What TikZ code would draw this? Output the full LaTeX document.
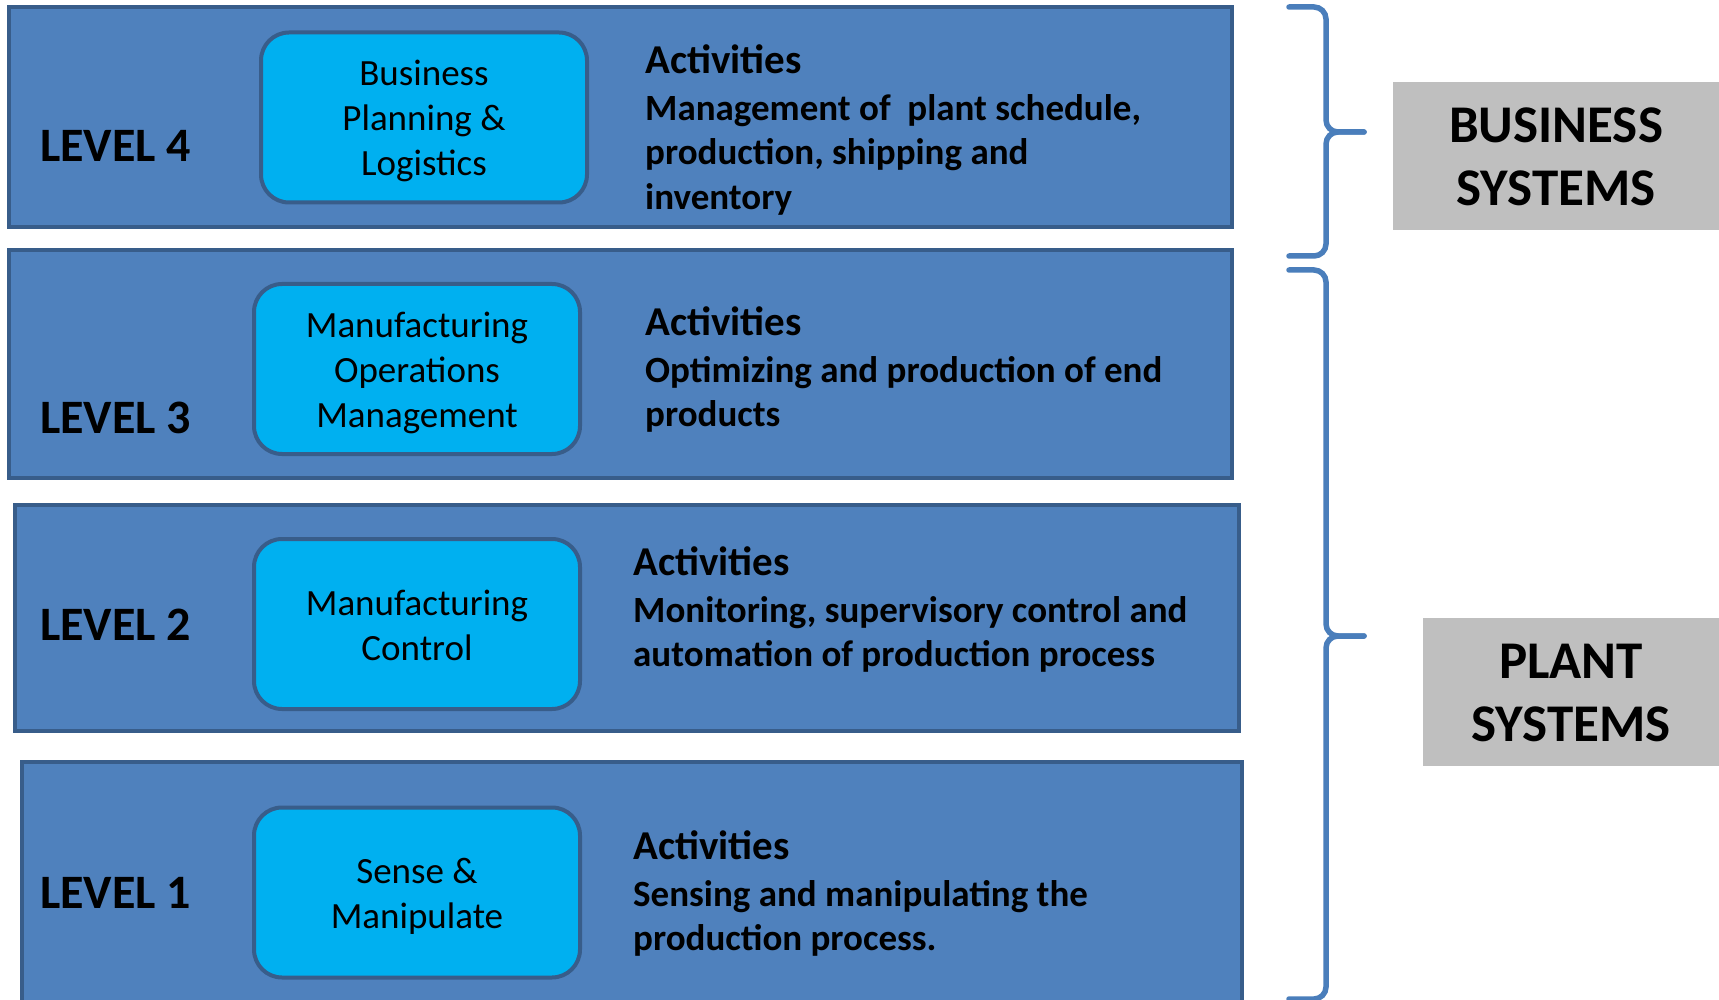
\documentclass[tikz,border=0pt]{standalone}
\usepackage{fontspec}
\setmainfont{Carlito}
\usetikzlibrary{calc}

\definecolor{levelblue}{HTML}{4F81BD}
\definecolor{leveledge}{HTML}{385D8A}
\definecolor{taskblue}{HTML}{00B0F0}
\definecolor{bracecol}{HTML}{4A7EBB}
\definecolor{sysgray}{HTML}{BFBFBF}

\begin{document}
\begin{tikzpicture}[x=1pt,y=-1pt]
		\tikzset{levelbox/.style={draw=leveledge, fill=levelblue, line width=4pt, inner sep=0pt}}
		\tikzset{taskbox/.style={draw=leveledge, fill=taskblue, line width=4pt, rounded corners=28pt, minimum width=326pt, minimum height=170pt, align=center, font=\fontsize{37}{45}\selectfont}}
		\tikzset{levellabel/.style={anchor=west, inner sep=0pt, font=\fontsize{48}{56}\selectfont\bfseries}}
		\tikzset{activity/.style={anchor=north west, inner sep=0pt, align=left, font=\fontsize{37}{44.5}\selectfont\bfseries}}
		\tikzset{sysbox/.style={fill=sysgray, align=center, inner sep=0pt, font=\fontsize{53}{63}\selectfont\bfseries}}
		\tikzset{bracepath/.style={draw=bracecol, line width=5.5pt, rounded corners=12pt, line cap=round}}
		
		%\draw[help lines, blue] (0,0) grid[step=100] (1719,1000);
		
		\useasboundingbox (0,0) rectangle (1719,1000);
		\clip (0,0) rectangle (1719,1000);
		
		\newcommand\drawLevelBox[5] % {x} {y} {width} {height} {name}
		{
			\node[levelbox, minimum width=#3pt, minimum height=#4pt] at (#1, #2) (#5) {};
		}
		
		\newcommand\drawTaskBox[4] % {x} {y} {text} {name}
		{
			\node[taskbox] at (#1, #2) (#4) {\rule{0pt}{34pt}#3\rule[-7pt]{0pt}{0pt}};
		}
		
		\newcommand\drawActivities[4] % {x} {y} {text} {name}
		{
			\node[activity] at (#1, #2) (#4) {{\fontsize{41}{44.5}\selectfont Activities}\\[2.5pt]#3};
		}
		
		\newcommand\drawBrace[3] % {top} {bottom} {tip}
		{
			\draw[bracepath] (#1) -| ($(#3)+(-38,0)$) -- (#3);
			\draw[bracepath] (#2) -| ($(#3)+(-38,0)$) -- (#3);
		}
		
		\drawLevelBox{620.5}{117}{1223}{220}{lvl4}
		\drawLevelBox{620.5}{364}{1223}{228}{lvl3}
		\drawLevelBox{627}{618}{1224}{226}{lvl2}
		\drawLevelBox{632}{886}{1220}{248}{lvl1}
		
		\node[levellabel] at (40, 146) (lbl4) {LEVEL 4};
		\node[levellabel] at (40, 418) (lbl3) {LEVEL 3};
		\node[levellabel] at (40, 625) (lbl2) {LEVEL 2};
		\node[levellabel] at (40, 893) (lbl1) {LEVEL 1};
		
		\drawTaskBox{424}{117.5}{Business\\Planning \&\\Logistics}{task4}
		\drawTaskBox{417}{369}{Manufacturing\\Operations\\Management}{task3}
		\drawTaskBox{417}{624}{Manufacturing\\Control}{task2}
		\drawTaskBox{417}{892.5}{Sense \&\\Manipulate}{task1}
		
		\drawActivities{645}{44}{Management of~ plant schedule,\\production, shipping and\\inventory}{act4}
		\drawActivities{645}{306}{Optimizing and production of end\\products}{act3}
		\drawActivities{633}{546}{Monitoring, supervisory control and\\automation of production process}{act2}
		\drawActivities{633}{830}{Sensing and manipulating the\\production process.}{act1}
		
		\node[sysbox, minimum width=326pt, minimum height=148pt] at (1556, 156) (bsys) {\rule{0pt}{37pt}BUSINESS\\SYSTEMS};
		\node[sysbox, minimum width=296pt, minimum height=148pt] at (1571, 692) (psys) {\rule{0pt}{37pt}PLANT\\SYSTEMS};
		
		\coordinate (btop) at (1289, 7);
		\coordinate (bbot) at (1289, 256);
		\coordinate (btip) at (1364, 132);
		\coordinate (ptop) at (1289, 270);
		\coordinate (pbot) at (1289, 999);
		\coordinate (ptip) at (1364, 636);
		
		\drawBrace{btop}{bbot}{btip}
		\drawBrace{ptop}{pbot}{ptip}
		
\end{tikzpicture}
\end{document}
